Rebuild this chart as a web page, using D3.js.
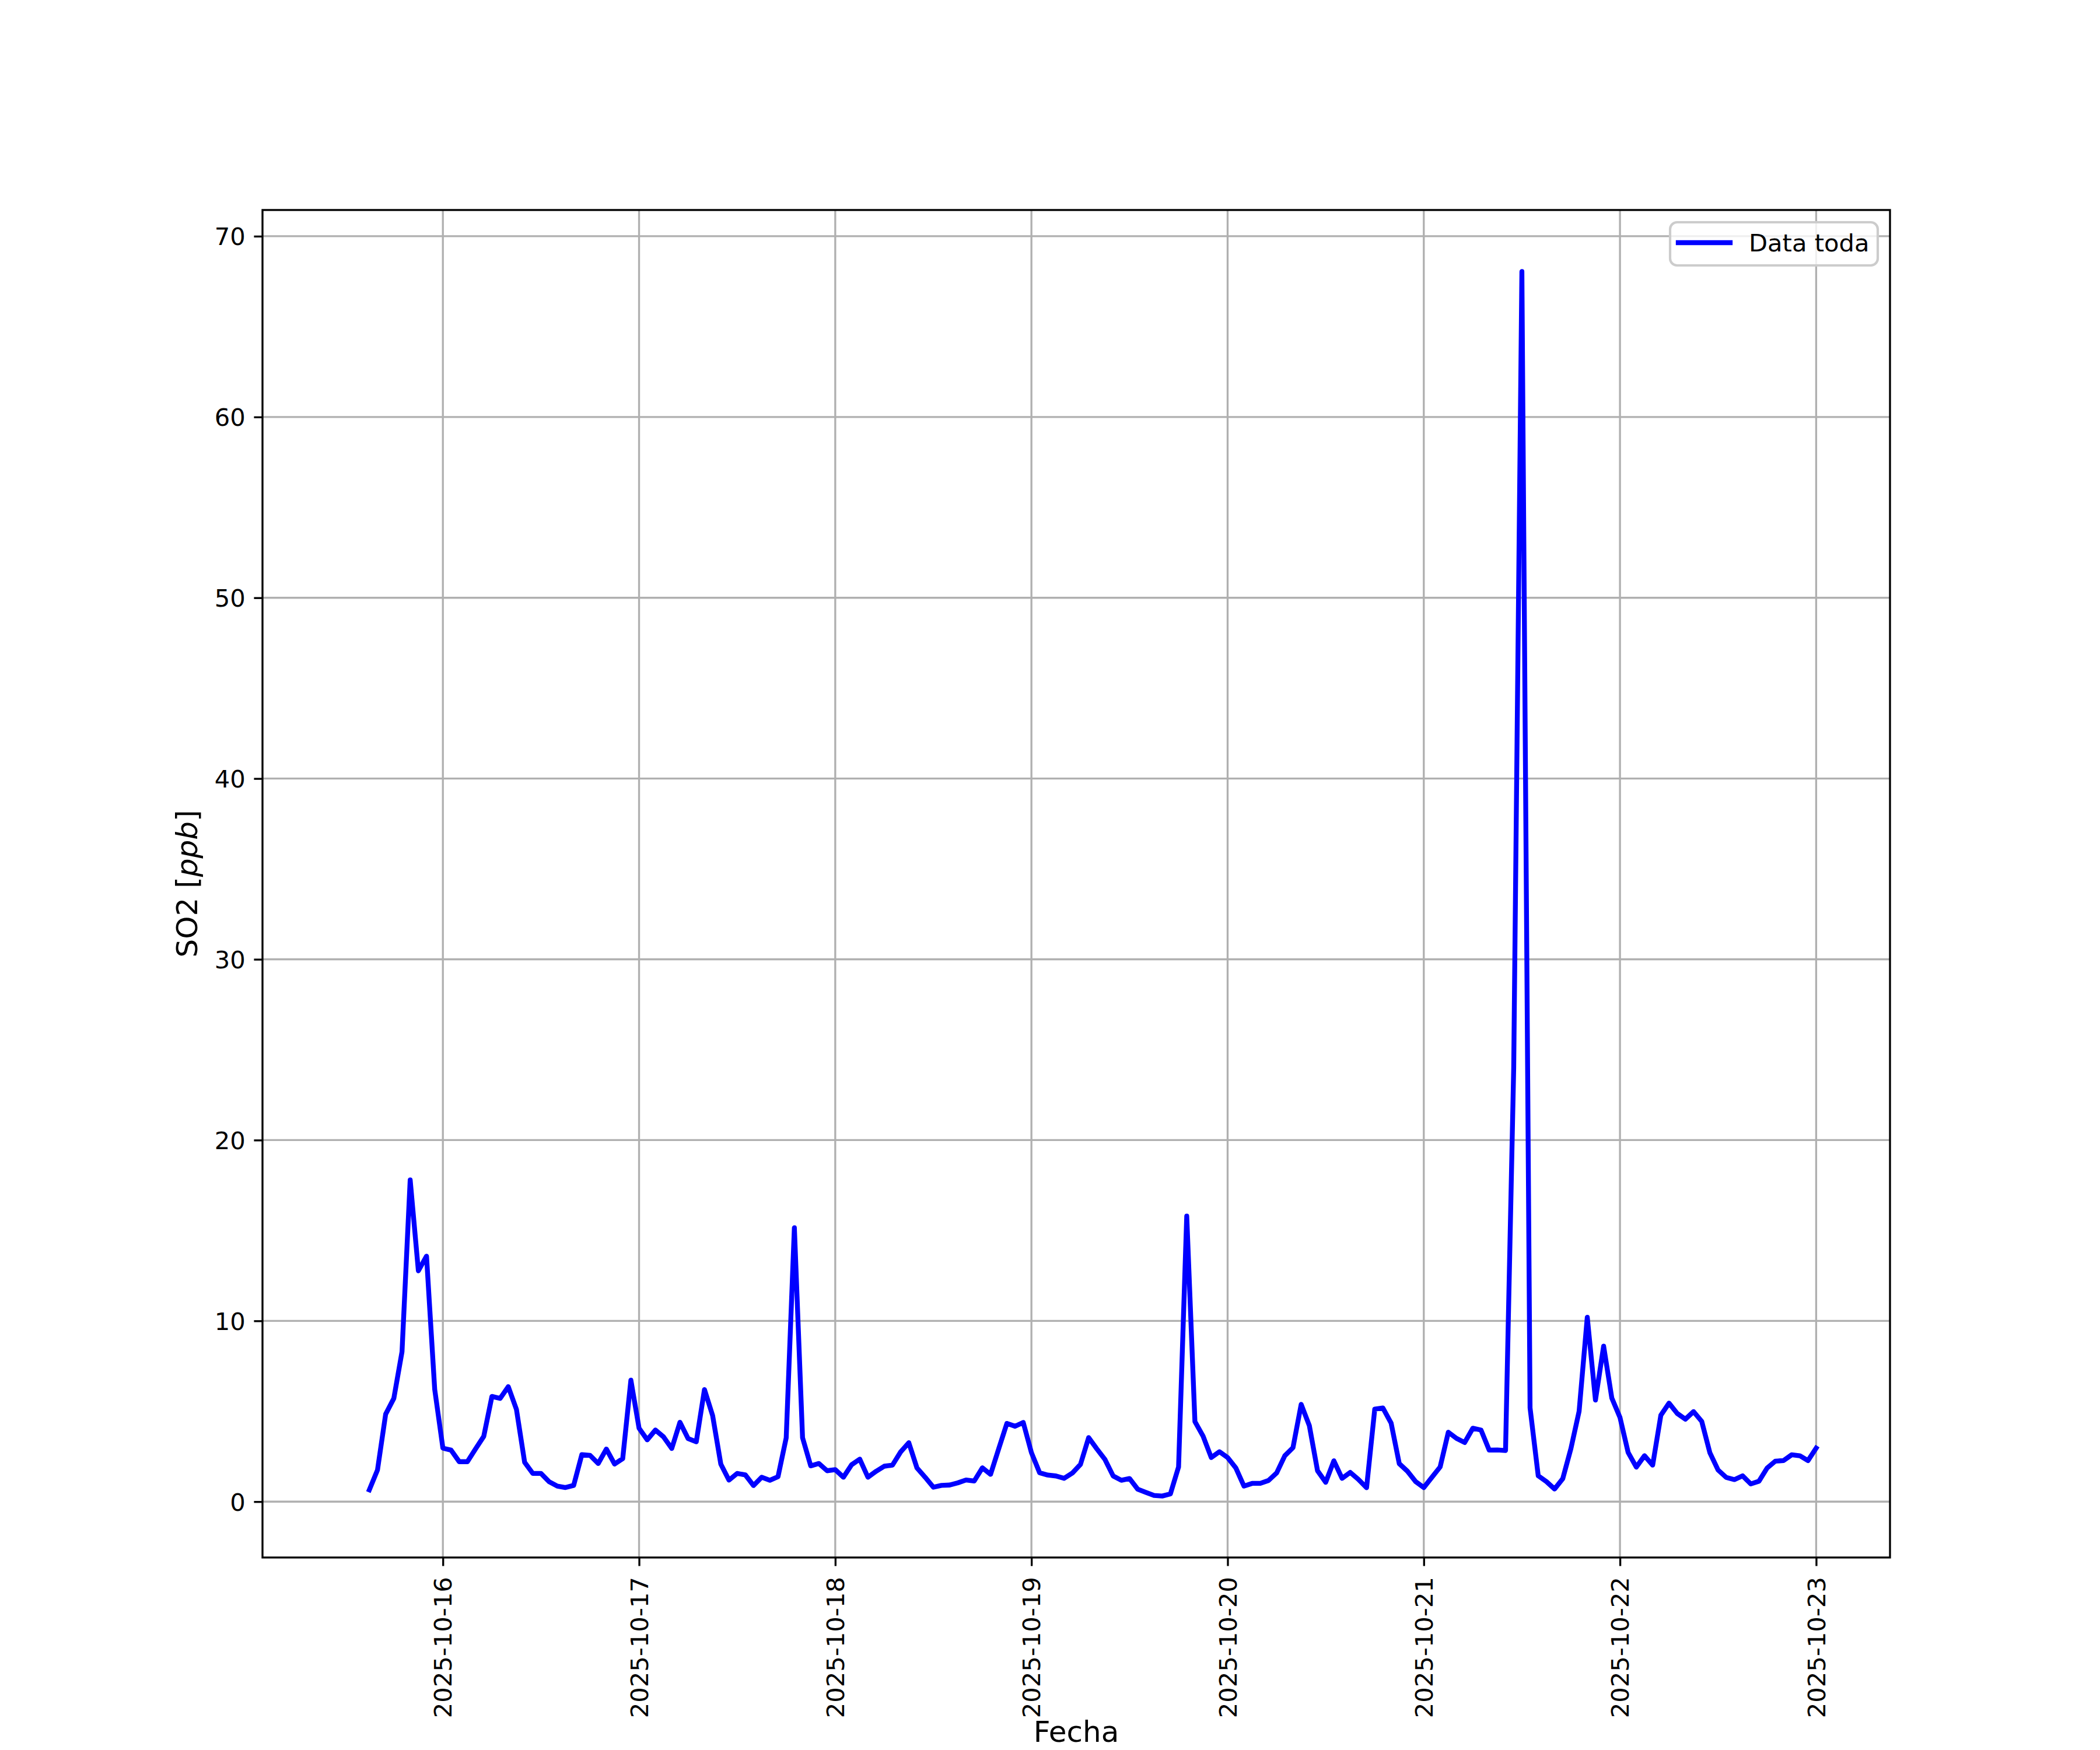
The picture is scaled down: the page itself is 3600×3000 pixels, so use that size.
<!DOCTYPE html>
<html>
<head>
<meta charset="utf-8">
<script src="https://cdn.jsdelivr.net/npm/d3@7"></script>
<style>
  html, body { margin: 0; padding: 0; background: #ffffff; }
  svg { display: block; }
  text { font-family: "DejaVu Sans", sans-serif; fill: #000; }
</style>
</head>
<body>
<script>
// ---------- DATA (hourly SO2, ppb) ----------
const seriesName = "Data toda";
const xLabel = "Fecha";
const yLabelMain = "SO2 ";
const yLabelUnit = "ppb";

// first hour of each day block (UTC) and its values
const day15Start = "2025-10-15T15:00:00Z";
const day15 = [0.65, 1.75, 4.84, 5.71, 8.29, 17.8, 12.77, 13.58, 6.21];
const day16Start = "2025-10-16T00:00:00Z";
const day16 = [2.96, 2.85, 2.21, 2.21, 2.92, 3.61, 5.82, 5.71, 6.36, 5.10, 2.18, 1.56,
               1.56, 1.10, 0.86, 0.78, 0.90, 2.60, 2.56, 2.11, 2.91, 2.08, 2.38, 6.72];
const day17Start = "2025-10-17T00:00:00Z";
const day17 = [4.06, 3.42, 3.96, 3.58, 2.94, 4.39, 3.49, 3.31, 6.20, 4.76, 2.08, 1.19,
               1.56, 1.48, 0.89, 1.35, 1.18, 1.38, 3.53, 15.15, 3.54, 1.98, 2.11, 1.71];
const day18Start = "2025-10-18T00:00:00Z";
const day18 = [1.77, 1.35, 2.04, 2.35, 1.35, 1.68, 1.96, 2.02, 2.75, 3.26, 1.86, 1.35,
               0.80, 0.90, 0.92, 1.04, 1.20, 1.14, 1.87, 1.51, 2.93, 4.33, 4.17, 4.38];
const day19Start = "2025-10-19T00:00:00Z";
const day19 = [2.71, 1.60, 1.47, 1.42, 1.29, 1.58, 2.06, 3.54, 2.92, 2.33, 1.42, 1.18,
               1.28, 0.69, 0.51, 0.34, 0.31, 0.43, 1.92, 15.8, 4.43, 3.62, 2.44, 2.76];
const day20Start = "2025-10-20T00:00:00Z";
const day20 = [2.44, 1.87, 0.86, 1.01, 1.01, 1.17, 1.59, 2.54, 2.99, 5.38, 4.20, 1.71,
               1.07, 2.26, 1.29, 1.62, 1.23, 0.77, 5.12, 5.18, 4.35, 2.10, 1.68, 1.11];
const day21Start = "2025-10-21T00:00:00Z";
const day21 = [0.78, 1.35, 1.92, 3.84, 3.50, 3.27, 4.06, 3.96, 2.85, 2.86, 2.83, 24.0,
               68.05, 5.19, 1.43, 1.11, 0.70, 1.27, 2.94, 5.00, 10.2, 5.62, 8.60, 5.73];
const day22Start = "2025-10-22T00:00:00Z";
const day22 = [4.66, 2.72, 1.91, 2.54, 2.02, 4.78, 5.45, 4.88, 4.56, 4.98, 4.44, 2.70,
               1.75, 1.34, 1.22, 1.43, 0.98, 1.13, 1.86, 2.24, 2.27, 2.59, 2.54, 2.27];
const day23Start = "2025-10-23T00:00:00Z";
const day23 = [2.96];

const xTickDates = ["2025-10-16", "2025-10-17", "2025-10-18", "2025-10-19",
                    "2025-10-20", "2025-10-21", "2025-10-22", "2025-10-23"];
const yTickValues = [0, 10, 20, 30, 40, 50, 60, 70];

// ---------- BUILD POINTS ----------
const blocks = [
  [day15Start, day15], [day16Start, day16], [day17Start, day17], [day18Start, day18],
  [day19Start, day19], [day20Start, day20], [day21Start, day21], [day22Start, day22],
  [day23Start, day23]
];
const points = [];
blocks.forEach(([start, vals]) => {
  const t0 = new Date(start);
  vals.forEach((v, i) => points.push({ t: d3.utcHour.offset(t0, i), v: v }));
});

// ---------- LAYOUT ----------
const W = 3600, H = 3000;
const pLeft = 450, pRight = 3240, pTop = 360, pBottom = 2670;
const px = 300 / 72; // points -> pixels

const svg = d3.select("body").append("svg")
  .attr("width", W).attr("height", H)
  .attr("viewBox", `0 0 ${W} ${H}`);

svg.append("rect").attr("width", W).attr("height", H).attr("fill", "#ffffff");

const x = d3.scaleUtc()
  .domain([new Date("2025-10-15T01:56:00Z"), new Date("2025-10-23T09:02:00Z")])
  .range([pLeft, pRight]);
const y = d3.scaleLinear()
  .domain([-3.09, 71.45])
  .range([pBottom, pTop]);

const xTicks = xTickDates.map(s => new Date(s + "T00:00:00Z"));
const fontTick = 10 * px;
const fontLabel = 12 * px;

// grid
const grid = svg.append("g");
grid.selectAll("line.gx").data(xTicks).enter().append("line")
  .attr("x1", d => x(d)).attr("x2", d => x(d))
  .attr("y1", pTop).attr("y2", pBottom)
  .attr("stroke", "#b0b0b0").attr("stroke-width", 0.8 * px);
grid.selectAll("line.gy").data(yTickValues).enter().append("line")
  .attr("x1", pLeft).attr("x2", pRight)
  .attr("y1", d => y(d)).attr("y2", d => y(d))
  .attr("stroke", "#b0b0b0").attr("stroke-width", 0.8 * px);

// clip + line
svg.append("clipPath").attr("id", "clip").append("rect")
  .attr("x", pLeft).attr("y", pTop).attr("width", pRight - pLeft).attr("height", pBottom - pTop);

const line = d3.line().x(d => x(d.t)).y(d => y(d.v));
svg.append("path")
  .datum(points)
  .attr("clip-path", "url(#clip)")
  .attr("d", line)
  .attr("fill", "none")
  .attr("stroke", "#0000ff")
  .attr("stroke-width", 2 * px)
  .attr("stroke-linejoin", "round")
  .attr("stroke-linecap", "square");

// axes
const tickLen = 3.5 * px;
const xAxis = d3.axisBottom(x)
  .tickValues(xTicks)
  .tickFormat(d3.utcFormat("%Y-%m-%d"))
  .tickSize(tickLen)
  .tickPadding(3.5 * px);
const gx = svg.append("g").attr("transform", `translate(0,${pBottom})`).call(xAxis);
gx.select(".domain").remove();
gx.selectAll(".tick line").attr("stroke", "#000").attr("stroke-width", 0.8 * px);
gx.selectAll(".tick text")
  .attr("font-size", fontTick)
  .attr("font-family", "DejaVu Sans")
  .attr("fill", "#000")
  .attr("text-anchor", "end")
  .attr("transform", `translate(0, ${tickLen + 3.5 * px + 4}) rotate(-90)`)
  .attr("x", 0).attr("y", 0).attr("dy", "0.35em");

const yAxis = d3.axisLeft(y)
  .tickValues(yTickValues)
  .tickFormat(d3.format("d"))
  .tickSize(tickLen)
  .tickPadding(3.5 * px);
const gy = svg.append("g").attr("transform", `translate(${pLeft},0)`).call(yAxis);
gy.select(".domain").remove();
gy.selectAll(".tick line").attr("stroke", "#000").attr("stroke-width", 0.8 * px);
gy.selectAll(".tick text")
  .attr("font-size", fontTick)
  .attr("font-family", "DejaVu Sans")
  .attr("fill", "#000")
  .attr("dy", "0.36em");

// spines
svg.append("rect")
  .attr("x", pLeft).attr("y", pTop)
  .attr("width", pRight - pLeft).attr("height", pBottom - pTop)
  .attr("fill", "none").attr("stroke", "#000").attr("stroke-width", 0.8 * px);

// axis labels
svg.append("text")
  .attr("x", (pLeft + pRight) / 2).attr("y", 2986)
  .attr("text-anchor", "middle")
  .attr("font-size", fontLabel)
  .text(xLabel);

const yl = svg.append("text")
  .attr("transform", `translate(338, ${(pTop + pBottom) / 2}) rotate(-90)`)
  .attr("text-anchor", "middle")
  .attr("font-size", fontLabel);
yl.append("tspan").text(yLabelMain + "[");
yl.append("tspan").attr("font-style", "italic").text(yLabelUnit);
yl.append("tspan").text("]");

// legend
const lg = svg.append("g");
lg.append("rect")
  .attr("x", 2863).attr("y", 381)
  .attr("width", 3219 - 2863).attr("height", 455 - 381)
  .attr("rx", 12).attr("ry", 12)
  .attr("fill", "#ffffff").attr("fill-opacity", 0.8)
  .attr("stroke", "#cccccc").attr("stroke-width", 1 * px);
lg.append("line")
  .attr("x1", 2877).attr("x2", 2966)
  .attr("y1", 416).attr("y2", 416)
  .attr("stroke", "#0000ff").attr("stroke-width", 2 * px)
  .attr("stroke-linecap", "square");
lg.append("text")
  .attr("x", 2998).attr("y", 431)
  .attr("font-size", fontTick)
  .text(seriesName);
</script>
</body>
</html>
